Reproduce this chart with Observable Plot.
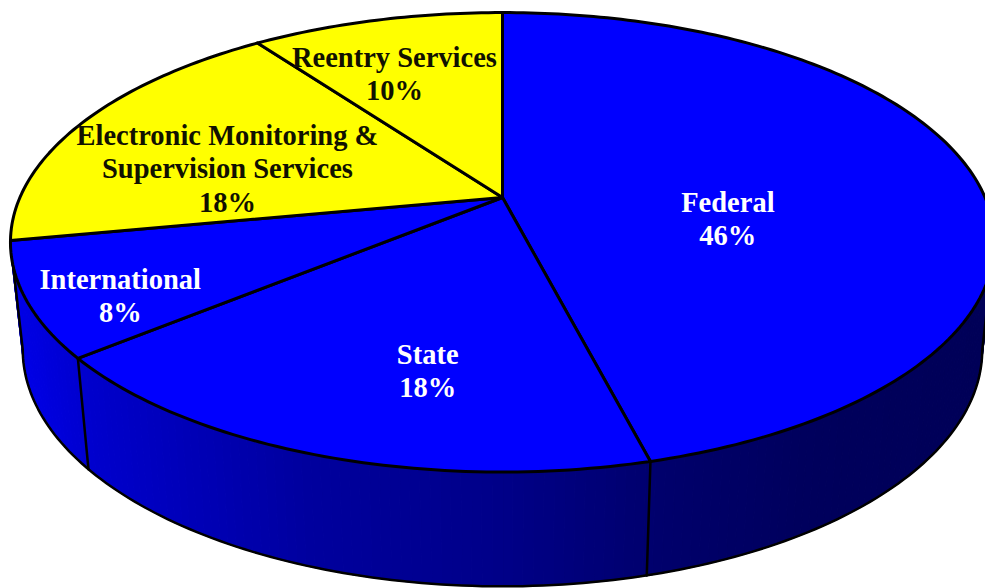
<!DOCTYPE html>
<html>
<head>
<meta charset="utf-8">
<style>
  html, body { margin: 0; padding: 0; background: #fff; overflow: hidden; }
  svg { display: block; }
</style>
<script src="https://cdn.jsdelivr.net/npm/d3@7"></script>
<script src="https://cdn.jsdelivr.net/npm/@observablehq/plot@0.6"></script>
</head>
<body>
<div id="chart"></div>
<script>
// Contract revenue share by segment, clockwise from twelve o'clock.
const segments = ["Federal", "State", "International", "Electronic Monitoring &\nSupervision Services", "Reentry Services"];
const shares = [46, 18, 8, 18, 10];
const faceColors = ["#0000ff", "#0000ff", "#0000ff", "#ffff00", "#ffff00"];
const labelColors = ["#ffffff", "#ffffff", "#ffffff", "#111100", "#111100"];

// Label centres, in the units of the x and y scales.
const labelX = [0.467, -0.155, -0.792, -0.57, -0.224];
const labelY = [-0.093, -0.781, -0.44, 0.135, 0.564];

// Shading of the side wall from left to right.
const wallStops = [-1, -0.85, -0.4, 0, 0.33, 0.65, 1];
const wallColors = ["#0000e6", "#0000cc", "#00009e", "#000088", "#00006c", "#00005c", "#000058"];

// Tilted-disc projection: k sets the foreshortening of the far edge.
const k = 0.195;
const wallDrop = 0.48, wallScaleX = 0.975, wallScaleY = 1.03;
const project = (deg, r = 1, wall = false) => {
  const t = deg * Math.PI / 180;
  const u = r * Math.sin(t), v = r * Math.cos(t);
  const d = 1 + k * v;
  return wall
    ? { x: wallScaleX * u / d, y: wallScaleY * v / d - wallDrop }
    : { x: u / d, y: v / d };
};

// Cumulative slice boundaries in degrees.
let total = d3.sum(shares), acc = 0;
const slices = shares.map((s, i) => {
  const start = acc / total * 360;
  acc += s;
  return { i, start, end: acc / total * 360 };
});

const arc = (a, b) => {
  const n = Math.ceil(b - a);
  return d3.range(n + 1).map(j => a + (b - a) * j / n);
};

// One closed outline per slice: apex, rim, back to the apex.
const faces = slices.flatMap(({ i, start, end }) => [
  { ...project(0, 0), id: i },
  ...arc(start, end).map(a => ({ ...project(a), id: i })),
  { ...project(0, 0), id: i }
]).map(p => ({ ...p, fill: faceColors[p.id] }));

// Only the near half of the wall shows, between the two silhouette angles.
const tangent = Math.acos(-k) * 180 / Math.PI;
const visible = arc(tangent, 360 - tangent);

// The wall is a run of narrow closed quads shaded by their horizontal position.
const shade = d3.scaleLinear().domain(wallStops).range(wallColors).clamp(true);
const wall = visible.slice(0, -1).flatMap((a, j) => {
  const b = visible[j + 1];
  const pts = [project(a), project(b), project(b, 1, true), project(a, 1, true), project(a)];
  const c = shade(d3.mean(pts, p => p.x));
  return pts.map(p => ({ ...p, id: j, color: c }));
});

const lowerRim = visible.map(a => project(a, 1, true));

// Vertical seams at the slice boundaries that face the viewer, plus the two silhouettes.
const seamAngles = [slices[0].end, slices[1].end, tangent, 360 - tangent];
const seams = seamAngles.flatMap((a, id) => [
  { ...project(a), id },
  { ...project(a, 1, true), id }
]);

const labels = segments.map((name, i) => ({
  text: `${name}\n${shares[i]}%`,
  x: labelX[i],
  y: labelY[i],
  color: labelColors[i]
}));

const chart = Plot.plot({
  width: 985,
  height: 588,
  margin: 0,
  x: { domain: [-1, 1], range: [19.4, 984.6], axis: null },
  y: { domain: [-1, 1], range: [418, -24], axis: null },
  marks: [
    Plot.line(wall, { x: "x", y: "y", z: "id", fill: "color", stroke: "color", strokeWidth: 1.2 }),
    Plot.line(lowerRim, { x: "x", y: "y", stroke: "#000", strokeWidth: 2.5 }),
    Plot.line(seams, { x: "x", y: "y", z: "id", stroke: "#000", strokeWidth: 2.5 }),
    Plot.line(faces, { x: "x", y: "y", z: "id", fill: "fill", stroke: "#000", strokeWidth: 3, strokeLinejoin: "round" }),
    Plot.text(labels, {
      x: "x",
      y: "y",
      text: "text",
      fill: "color",
      fontFamily: "Liberation Serif",
      fontWeight: "bold",
      fontSize: 28.5,
      lineHeight: 1.17,
      textAnchor: "middle"
    })
  ]
});

document.getElementById("chart").append(chart);
</script>
</body>
</html>
